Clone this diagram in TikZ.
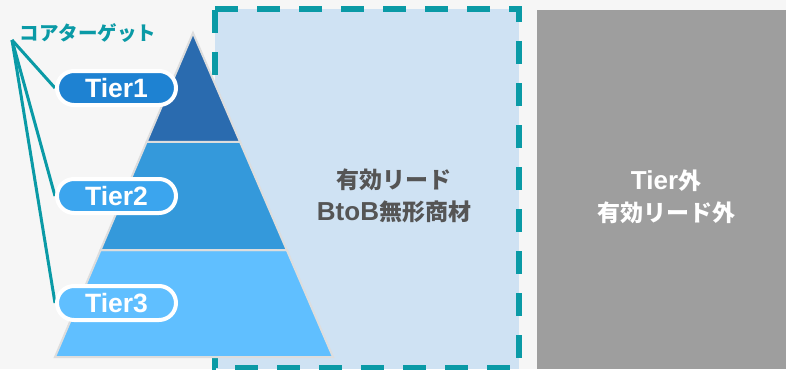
\documentclass[tikz,border=0pt]{standalone}
\usepackage{fontspec}
\setmainfont{Liberation Sans}
\newfontfamily\jpfont{Noto Sans CJK JP}
\usetikzlibrary{calc}
\pgfdeclarelayer{backlayer}
\pgfdeclarelayer{linelayer}
\pgfsetlayers{backlayer,linelayer,main}
\definecolor{bgc}{HTML}{F6F6F6}
\definecolor{lightboxc}{HTML}{CFE2F3}
\definecolor{tealc}{HTML}{0A9AA6}
\definecolor{greyboxc}{HTML}{9E9E9E}
\definecolor{bandA}{HTML}{2A6BAF}
\definecolor{bandB}{HTML}{3499DB}
\definecolor{bandC}{HTML}{60BFFF}
\definecolor{pillA}{HTML}{1E82D2}
\definecolor{pillB}{HTML}{3BA5EE}
\definecolor{pillC}{HTML}{60BFFF}
\definecolor{sepc}{HTML}{DDDDDD}
\definecolor{darktext}{HTML}{555555}
\newcommand\jpt[1]{{\jpfont\fontsize{23}{32}\selectfont #1}}
\begin{document}
\begin{tikzpicture}[x=1pt,y=-1pt,
  band/.style={draw=sepc, line width=2pt},
  pill/.style={draw=white, line width=4pt, rounded corners=17pt, minimum width=119pt, minimum height=34pt, text=white, inner sep=0pt, font=\bfseries\fontsize{26.5}{26}\selectfont},
  tline/.style={draw=tealc, line width=3pt},
  bigtext/.style={align=center, font=\bfseries\fontsize{26}{32}\selectfont}]
\begin{pgfonlayer}{backlayer}
\useasboundingbox[fill=bgc] (0,0) rectangle (786,369);
% light blue area
\fill[lightboxc] (215,9) rectangle (519,369);
\draw[tealc, line width=5.5pt, dash pattern=on 23pt off 19pt] (215,9) -- (519,9) -- (519,368) -- (215,368) -- cycle;
% grey area
\fill[greyboxc] (537,10) rectangle (786,369);
% pyramid
\coordinate (A) at (193,33);
\coordinate (L) at (55,357);
\coordinate (R) at (333,357);
\coordinate (L1) at ($(A)!0.3364!(L)$);
\coordinate (R1) at ($(A)!0.3364!(R)$);
\coordinate (L2) at ($(A)!0.6698!(L)$);
\coordinate (R2) at ($(A)!0.6698!(R)$);
\filldraw[band, fill=bandC] (L2) -- (R2) -- (R) -- (L) -- cycle;
\filldraw[band, fill=bandB] (L1) -- (R1) -- (R2) -- (L2) -- cycle;
\filldraw[band, fill=bandA] (A) -- (R1) -- (L1) -- cycle;
\end{pgfonlayer}
% labels
\node[font=\bfseries\fontsize{19.5}{19.5}\selectfont, text=tealc, inner sep=0pt] (core) at (88,33) {\jpfont コアターゲット};
\coordinate (hub) at (12,40);
\node[pill, fill=pillA] (t1) at (116.5,88) {Tier1};
\node[pill, fill=pillB] (t2) at (116.5,196) {Tier2};
\node[pill, fill=pillC] (t3) at (116.5,303) {Tier3};
\begin{pgfonlayer}{linelayer}
\draw[tline] (hub) -- (t1.west);
\draw[tline] (hub) -- (t2.west);
\draw[tline] (hub) -- (t3.west);
\end{pgfonlayer}
% texts
\node[bigtext, text=darktext] (mid) at (394,196) {\jpt{有効リード}\\BtoB\jpt{無形商材}};
\node[bigtext, text=white] (out) at (666,197) {Tier\jpt{外}\\\jpt{有効リード外}};
\end{tikzpicture}
\end{document}
